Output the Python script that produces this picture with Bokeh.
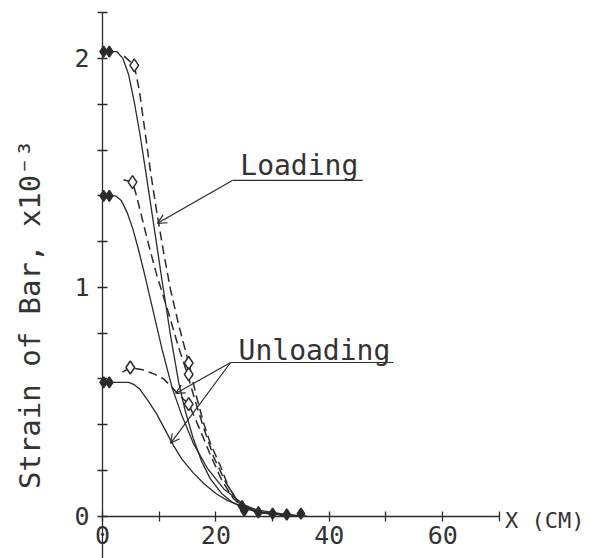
from math import pi
from bokeh.plotting import figure
from bokeh.models import LinearAxis, FixedTicker, Range1d, Arrow, OpenHead, Label
from bokeh.embed import file_html
from bokeh.resources import INLINE

# ---- data ----
x_solid_top = [0, 2.5, 3.6, 4.6, 5.6, 6.6, 7.6, 9.0, 10.5, 12.0, 13.4, 14.6, 16.0, 17.5, 19.0, 21, 23, 25, 28, 32, 36]
y_solid_top = [2.03, 2.03, 2.0, 1.93, 1.81, 1.67, 1.51, 1.28, 1.03, 0.79, 0.59, 0.46, 0.34, 0.24, 0.165, 0.10, 0.06, 0.035, 0.015, 0.005, 0.0]

x_solid_mid = [0, 2.3, 3.3, 4.3, 5.3, 6.3, 7.3, 9, 10.5, 12.3, 14, 16, 18.5, 21.4, 25, 28, 32, 36]
y_solid_mid = [1.40, 1.40, 1.38, 1.33, 1.26, 1.17, 1.07, 0.89, 0.73, 0.56, 0.44, 0.32, 0.21, 0.12, 0.05, 0.02, 0.005, 0.0]

x_solid_low = [0, 4.6, 5.6, 6.6, 7.9, 9.5, 11, 12.5, 14, 16, 18, 20, 22, 24, 26, 28, 32, 36]
y_solid_low = [0.585, 0.585, 0.575, 0.555, 0.51, 0.45, 0.38, 0.31, 0.25, 0.19, 0.14, 0.10, 0.07, 0.05, 0.035, 0.025, 0.01, 0.0]

x_dash_top = [3.8, 5.6, 6.5, 7.5, 8.5, 9.5, 10.8, 12.0, 13.5, 15.2, 16.5, 17.8, 19.0, 20.8, 22.2, 24, 27, 31, 35]
y_dash_top = [2.01, 1.97, 1.86, 1.68, 1.50, 1.34, 1.15, 0.99, 0.83, 0.67, 0.53, 0.41, 0.32, 0.22, 0.13, 0.06, 0.02, 0.008, 0.0]

x_dash_mid = [3.7, 5.3, 6.0, 7.0, 8.0, 9.5, 11.5, 13.4, 15.0, 16.4, 17.8, 19.6, 21.7, 24, 27, 31, 35]
y_dash_mid = [1.47, 1.46, 1.40, 1.30, 1.20, 1.06, 0.90, 0.74, 0.62, 0.50, 0.39, 0.26, 0.15, 0.06, 0.02, 0.005, 0.0]

x_dash_low = [3.5, 4.9, 7.1, 9.3, 10.8, 12.0, 13.5, 15.2, 17, 19, 21, 23, 25, 28, 32, 35]
y_dash_low = [0.63, 0.65, 0.64, 0.62, 0.60, 0.57, 0.53, 0.49, 0.39, 0.27, 0.16, 0.08, 0.035, 0.015, 0.005, 0.0]

x_open_diamonds = [5.6, 5.3, 4.9, 15.2, 15.2, 15.2]
y_open_diamonds = [1.97, 1.46, 0.65, 0.67, 0.62, 0.49]

x_filled = [0.2, 1.2, 0.2, 1.2, 0.2, 1.2, 24.6, 25.0, 27.5, 30, 32.5, 35.0]
y_filled = [2.03, 2.03, 1.40, 1.40, 0.585, 0.585, 0.045, 0.025, 0.018, 0.012, 0.008, 0.012]

x_ticks = [0, 20, 40, 60]
x_minor_ticks = [10, 30, 50, 70]
y_ticks = [0, 1, 2]
y_minor_ticks = [0.2, 0.4, 0.6, 0.8, 1.2, 1.4, 1.6, 1.8, 2.2]

INK = "#2b2b2b"
FONT = "DejaVu Sans Mono"

p = figure(width=590, height=558, output_backend="svg", toolbar_location=None,
           x_range=Range1d(-17.99, 86.07), y_range=Range1d(-0.184, 2.253),
           x_axis_type=None, y_axis_type=None, min_border=0)
p.outline_line_color = None
p.background_fill_color = "white"
p.border_fill_color = "white"

def style_axis(ax):
    ax.axis_line_color = INK
    ax.axis_line_width = 1.3
    ax.major_tick_line_color = INK
    ax.minor_tick_line_color = INK
    ax.major_tick_line_width = 1.3
    ax.minor_tick_line_width = 1.3
    ax.major_tick_in = 5
    ax.major_tick_out = 5
    ax.minor_tick_in = 5
    ax.minor_tick_out = 5
    ax.major_label_text_font = FONT
    ax.major_label_text_font_size = "25px"
    ax.major_label_text_color = "#333333"

xaxis = LinearAxis(fixed_location=0, bounds=(0, 70),
                   ticker=FixedTicker(ticks=x_ticks, minor_ticks=x_minor_ticks))
style_axis(xaxis)
xaxis.major_label_standoff = 5
p.add_layout(xaxis, "below")

yaxis = LinearAxis(fixed_location=0, bounds=(-0.2, 2.2),
                   ticker=FixedTicker(ticks=y_ticks, minor_ticks=y_minor_ticks))
style_axis(yaxis)
yaxis.major_label_standoff = 8
p.add_layout(yaxis, "left")

# curves
for xs, ys in [(x_solid_top, y_solid_top), (x_solid_mid, y_solid_mid), (x_solid_low, y_solid_low)]:
    p.line(xs, ys, line_color=INK, line_width=1.3)
for xs, ys in [(x_dash_top, y_dash_top), (x_dash_mid, y_dash_mid), (x_dash_low, y_dash_low)]:
    p.line(xs, ys, line_color=INK, line_width=1.5, line_dash="9 5")

p.scatter(x_open_diamonds, y_open_diamonds, marker="diamond", size=13,
          fill_color="white", line_color=INK, line_width=1.5)
p.scatter(x_filled, y_filled, marker="diamond", size=11,
          fill_color=INK, line_color=INK, line_width=1.5)

# annotations
p.add_layout(Label(x=24.3, y=1.533, text="Loading", text_font=FONT, text_font_size="28px",
                   text_color="#333333", text_baseline="alphabetic"))
p.segment(x0=[22.9], y0=[1.467], x1=[45.9], y1=[1.467], line_color=INK, line_width=1.2)
p.add_layout(Arrow(end=OpenHead(size=9, line_color=INK, line_width=1.2),
                   x_start=22.9, y_start=1.467, x_end=9.7, y_end=1.28,
                   line_color=INK, line_width=1.2))

p.add_layout(Label(x=24.0, y=0.725, text="Unloading", text_font=FONT, text_font_size="28px",
                   text_color="#333333", text_baseline="alphabetic"))
p.segment(x0=[22.6], y0=[0.672], x1=[51.3], y1=[0.672], line_color=INK, line_width=1.2)
p.add_layout(Arrow(end=OpenHead(size=9, line_color=INK, line_width=1.2),
                   x_start=22.6, y_start=0.672, x_end=12.9, y_end=0.537,
                   line_color=INK, line_width=1.2))
p.add_layout(Arrow(end=OpenHead(size=9, line_color=INK, line_width=1.2),
                   x_start=22.6, y_start=0.672, x_end=12.0, y_end=0.319,
                   line_color=INK, line_width=1.2))

p.add_layout(Label(x=71.0, y=-0.02, text="X (CM)", text_font=FONT, text_font_size="22px",
                   text_color="#333333", text_baseline="middle", text_align="left"))

p.add_layout(Label(x=-12.7, y=0.882, text="Strain of Bar, x10\u207b\u00b3", angle=pi / 2,
                   text_font=FONT, text_font_size="29px", text_color="#333333",
                   text_align="center", text_baseline="middle"))

open("out.html", "w").write(file_html(p, INLINE))
